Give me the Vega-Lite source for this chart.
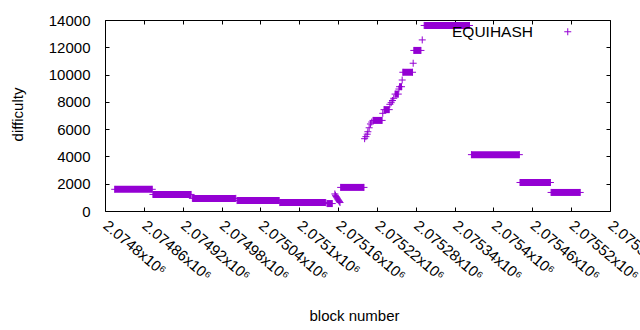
{
  "$schema": "https://vega.github.io/schema/vega-lite/v6.json",
  "width": 505,
  "height": 191,
  "autosize": {"type": "none"},
  "padding": {"left": 105, "top": 20, "right": 30, "bottom": 119},
  "background": "white",
  "config": {
    "view": {"stroke": "black", "strokeWidth": 1},
    "font": "Liberation Sans",
    "axis": {
      "labelFont": "Liberation Sans",
      "titleFont": "Liberation Sans",
      "labelFontSize": 15,
      "titleFontSize": 15,
      "labelColor": "black",
      "titleColor": "black",
      "titleFontWeight": "normal",
      "domain": false,
      "grid": false,
      "tickColor": "black",
      "tickWidth": 1,
      "tickSize": -4
    },
    "legend": {
      "orient": "none",
      "legendX": 455,
      "legendY": 4,
      "padding": 0,
      "symbolType": "M-1,0L1,0M0,-1L0,1",
      "symbolSize": 49,
      "symbolStrokeWidth": 1,
      "symbolStrokeColor": "#9400d3",
      "symbolFillColor": "transparent",
      "labelFont": "Liberation Sans",
      "labelFontSize": 15.5,
      "labelColor": "black",
      "labelAlign": "right",
      "labelOffset": -42.5
    }
  },
  "datasets": {
    "segments": [
      {"start": 2074815, "end": 2074873, "difficulty": 1590},
      {"start": 2074874, "end": 2074933, "difficulty": 1215},
      {"start": 2074935, "end": 2075002, "difficulty": 925},
      {"start": 2075004, "end": 2075069, "difficulty": 765},
      {"start": 2075070, "end": 2075141, "difficulty": 615},
      {"start": 2075143, "end": 2075151, "difficulty": 545},
      {"start": 2075164, "end": 2075200, "difficulty": 1730},
      {"start": 2075214, "end": 2075228, "difficulty": 6640},
      {"start": 2075231, "end": 2075239, "difficulty": 7430},
      {"start": 2075248, "end": 2075253, "difficulty": 8570},
      {"start": 2075255, "end": 2075258, "difficulty": 9110},
      {"start": 2075260, "end": 2075275, "difficulty": 10170},
      {"start": 2075277, "end": 2075288, "difficulty": 11770},
      {"start": 2075293, "end": 2075363, "difficulty": 13600},
      {"start": 2075366, "end": 2075440, "difficulty": 4130},
      {"start": 2075441, "end": 2075488, "difficulty": 2090},
      {"start": 2075489, "end": 2075534, "difficulty": 1360}
    ],
    "points": [
      {"block": 2075155, "difficulty": 1250, "series": "EQUIHASH"},
      {"block": 2075156, "difficulty": 1150, "series": "EQUIHASH"},
      {"block": 2075157, "difficulty": 1060, "series": "EQUIHASH"},
      {"block": 2075158, "difficulty": 980, "series": "EQUIHASH"},
      {"block": 2075159, "difficulty": 900, "series": "EQUIHASH"},
      {"block": 2075160, "difficulty": 830, "series": "EQUIHASH"},
      {"block": 2075161, "difficulty": 760, "series": "EQUIHASH"},
      {"block": 2075162, "difficulty": 690, "series": "EQUIHASH"},
      {"block": 2075163, "difficulty": 620, "series": "EQUIHASH"},
      {"block": 2075201, "difficulty": 5300, "series": "EQUIHASH"},
      {"block": 2075203, "difficulty": 5450, "series": "EQUIHASH"},
      {"block": 2075205, "difficulty": 5630, "series": "EQUIHASH"},
      {"block": 2075206, "difficulty": 5810, "series": "EQUIHASH"},
      {"block": 2075208, "difficulty": 6100, "series": "EQUIHASH"},
      {"block": 2075210, "difficulty": 6380, "series": "EQUIHASH"},
      {"block": 2075212, "difficulty": 6520, "series": "EQUIHASH"},
      {"block": 2075229, "difficulty": 7160, "series": "EQUIHASH"},
      {"block": 2075240, "difficulty": 7820, "series": "EQUIHASH"},
      {"block": 2075242, "difficulty": 7940, "series": "EQUIHASH"},
      {"block": 2075244, "difficulty": 8100, "series": "EQUIHASH"},
      {"block": 2075246, "difficulty": 8260, "series": "EQUIHASH"},
      {"block": 2075254, "difficulty": 8940, "series": "EQUIHASH"},
      {"block": 2075259, "difficulty": 9600, "series": "EQUIHASH"},
      {"block": 2075276, "difficulty": 10830, "series": "EQUIHASH"},
      {"block": 2075290, "difficulty": 12540, "series": "EQUIHASH"}
    ]
  },
  "layer": [
    {
      "data": {"name": "segments"},
      "mark": {"type": "rule", "strokeWidth": 7, "strokeCap": "butt", "color": "#9400d3"},
      "encoding": {
        "x": {
          "field": "start", "type": "quantitative",
          "scale": {"domain": [2074800, 2075580], "nice": false, "zero": false},
          "axis": {
            "orient": "bottom",
            "values": [2074800, 2074860, 2074920, 2074980, 2075040, 2075100, 2075160, 2075220, 2075280, 2075340, 2075400, 2075460, 2075520, 2075580],
            "labelExpr": "format(datum.value / 1000000, '.5~f') + 'x10⁶'",
            "labelAngle": 40,
            "labelAlign": "left",
            "labelBaseline": "middle",
            "labelPadding": 16,
            "labelOverlap": false,
            "labelBound": false,
            "labelFlush": false,
            "title": "block number",
            "titleX": 249,
            "titleY": 104,
            "titleBaseline": "middle",
            "titleAlign": "center"
          }
        },
        "x2": {"field": "end"},
        "y": {
          "field": "difficulty", "type": "quantitative",
          "scale": {"domain": [0, 14000], "nice": false, "zero": true},
          "axis": {
            "orient": "left",
            "values": [0, 2000, 4000, 6000, 8000, 10000, 12000, 14000],
            "format": "d",
            "labelPadding": 19,
            "labelFlush": false,
            "labelOverlap": false,
            "title": "difficulty",
            "titleX": -88,
            "titleY": 94,
            "titleAngle": -90,
            "titleAlign": "center",
            "titleBaseline": "middle"
          }
        }
      }
    },
    {
      "data": {"name": "segments"},
      "mark": {"type": "point", "shape": "M-1,0L1,0M0,-1L0,1", "size": 49, "filled": false, "strokeWidth": 1, "color": "#9400d3", "opacity": 1},
      "encoding": {
        "x": {"field": "start", "type": "quantitative", "axis": null},
        "y": {"field": "difficulty", "type": "quantitative", "axis": null}
      }
    },
    {
      "data": {"name": "segments"},
      "mark": {"type": "point", "shape": "M-1,0L1,0M0,-1L0,1", "size": 49, "filled": false, "strokeWidth": 1, "color": "#9400d3", "opacity": 1},
      "encoding": {
        "x": {"field": "end", "type": "quantitative", "axis": null},
        "y": {"field": "difficulty", "type": "quantitative", "axis": null}
      }
    },
    {
      "data": {"name": "points"},
      "mark": {"type": "point", "shape": "M-1,0L1,0M0,-1L0,1", "size": 49, "filled": false, "strokeWidth": 1, "opacity": 1},
      "encoding": {
        "x": {
          "field": "block", "type": "quantitative",
          "axis": {
            "orient": "top",
            "values": [2074800, 2074860, 2074920, 2074980, 2075040, 2075100, 2075160, 2075220, 2075280, 2075340, 2075400, 2075460, 2075520, 2075580],
            "labels": false,
            "title": null
          }
        },
        "y": {
          "field": "difficulty", "type": "quantitative",
          "axis": {
            "orient": "right",
            "values": [0, 2000, 4000, 6000, 8000, 10000, 12000, 14000],
            "labels": false,
            "title": null
          }
        },
        "color": {
          "field": "series", "type": "nominal",
          "scale": {"domain": ["EQUIHASH"], "range": ["#9400d3"]},
          "legend": {"title": null}
        }
      }
    }
  ]
}
